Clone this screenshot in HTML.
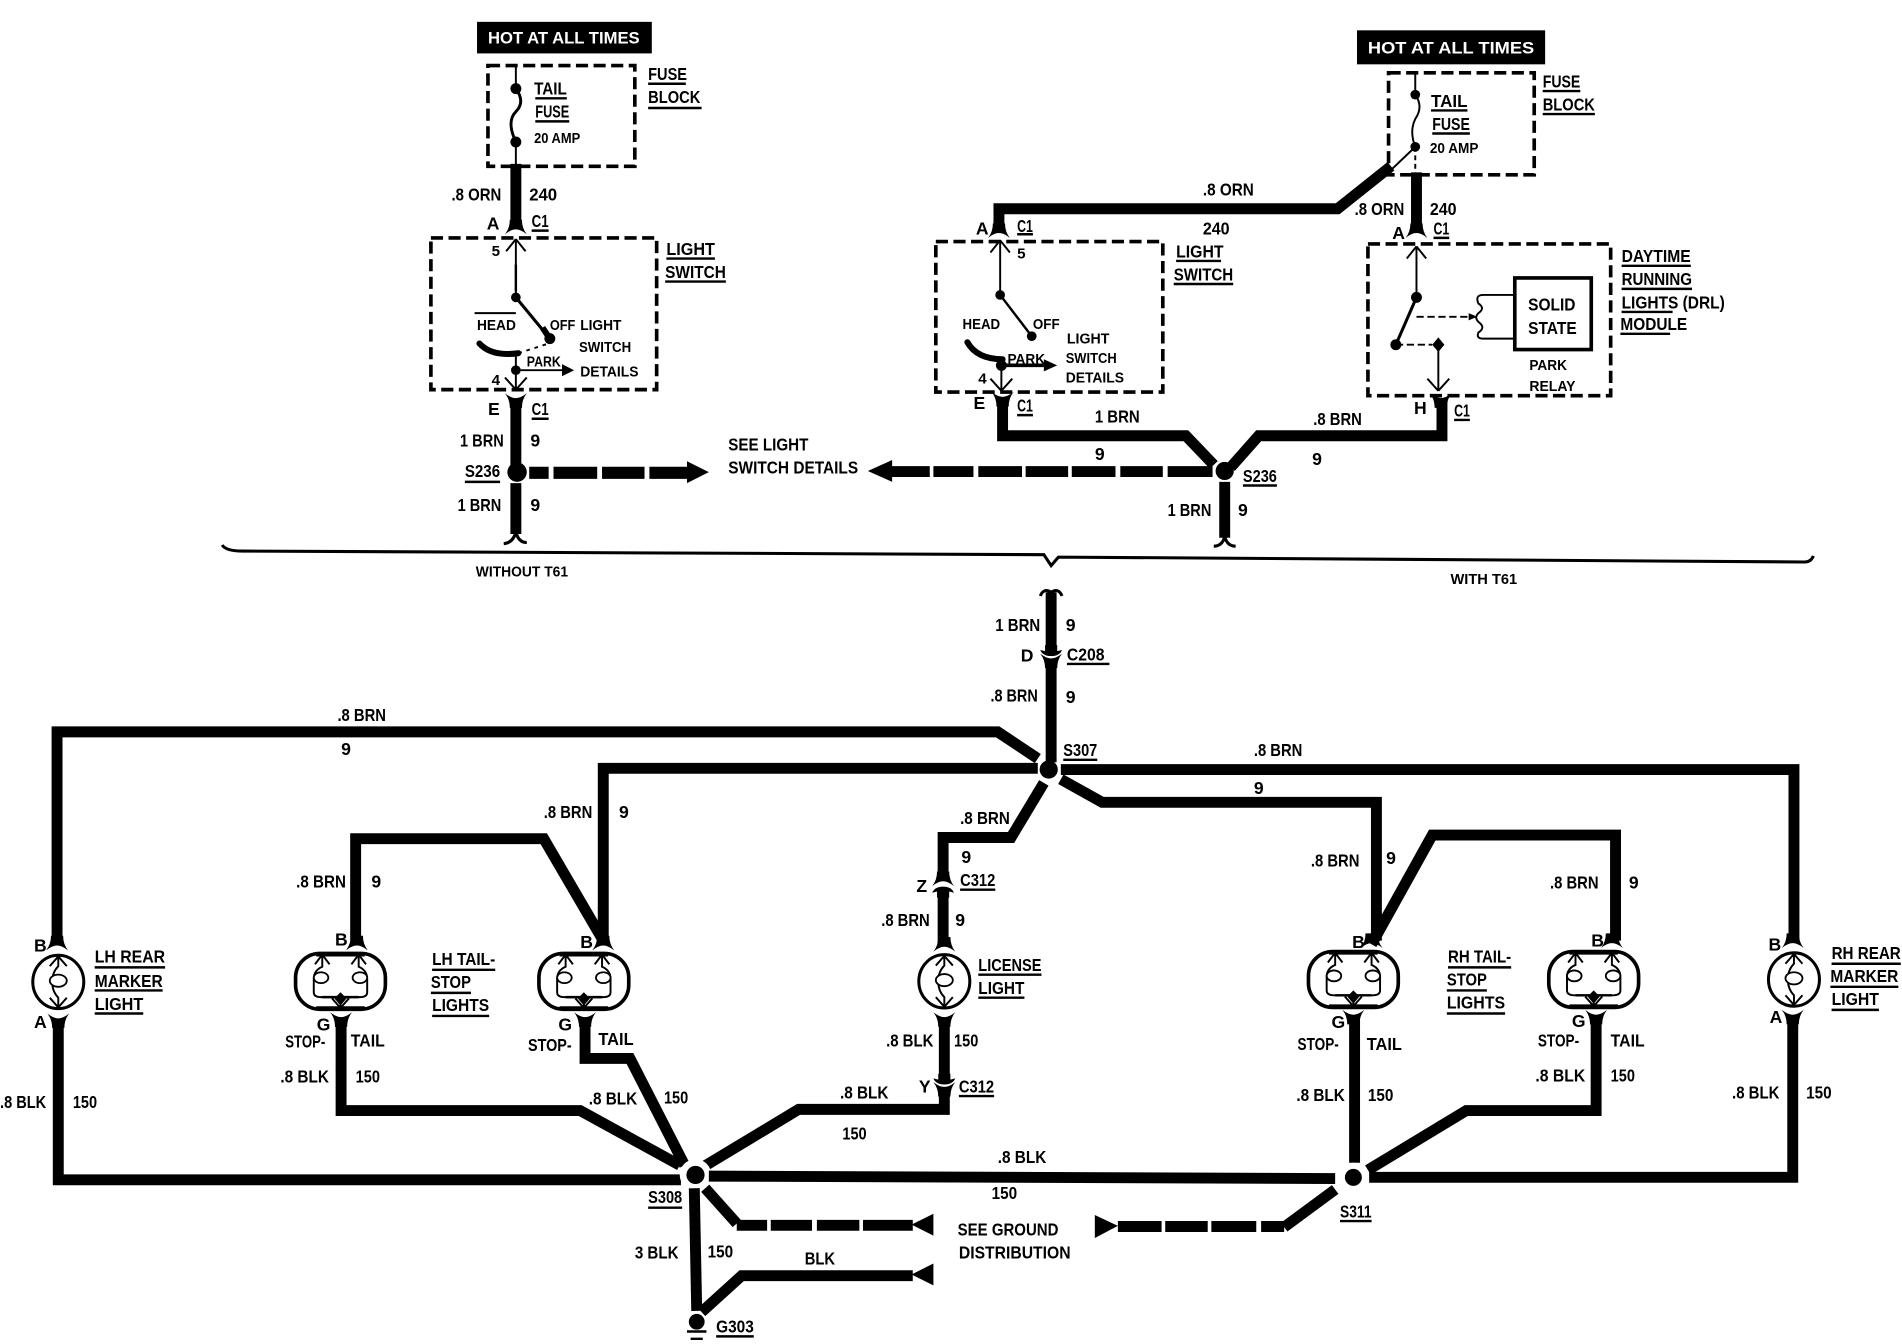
<!DOCTYPE html>
<html><head><meta charset="utf-8"><style>
html,body{margin:0;padding:0;background:#fff}
svg{display:block}
text{font-family:"Liberation Sans",sans-serif;font-weight:bold;font-size:14.5px;fill:#000}
.s{font-size:12.5px}
.w{fill:#fff;font-size:14px}
.t{fill:none;stroke:#000;stroke-width:1.6}
.m{fill:none;stroke:#000;stroke-width:9;stroke-linejoin:miter}
.d{fill:none;stroke:#000;stroke-width:3;stroke-dasharray:10 4.5}
.u{fill:none;stroke:#000;stroke-width:2}
</style></head><body>
<svg xmlns="http://www.w3.org/2000/svg" width="1902" height="1344" viewBox="0 0 1567 1107.3">
<defs>
<g id="cd"><path d="M-9,3Q-5,-2 -5,-9H5Q5,-2 9,3Q4,-1 0,-1Q-4,-1 -9,3Z"/></g>
<g id="cu"><path d="M-9,-3Q-5,2 -5,9H5Q5,2 9,-3Q4,1 0,1Q-4,1 -9,-3Z"/></g>
<g id="dome"><path d="M-9,5Q-7,0 0,0Q7,0 9,5L5,4V9H-5V4Z"/></g>
<g id="du"><path d="M-9,-5Q-7,0 0,0Q7,0 9,-5L5,-4V-9H-5V-4Z"/></g>
<g id="dual">
<rect x="-37" y="-23" width="74" height="46" rx="20" fill="#fff" stroke="#000" stroke-width="3"/>
<path d="M-20,-22H20M-20,22H20" stroke="#000" stroke-width="3"/>
<path class="t" d="M-15,-22L-21,-14M-15,-22L-9,-14M15,-22L9,-14M15,-22L21,-14M-15,-22V-12Q-22,-9 -22,-2V9Q-22,13 -16,13H16Q22,13 22,9V-2Q22,-9 15,-12V-22M0,15V22M0,22L-7,14M0,22L7,14"/>
<ellipse cx="-16" cy="-3" rx="6" ry="4.5" fill="#fff" stroke="#000" stroke-width="1.5"/>
<ellipse cx="16" cy="-3" rx="6" ry="4.5" fill="#fff" stroke="#000" stroke-width="1.5"/>
<path d="M0,9L5,14L0,20L-5,14Z"/>
<path d="M-15,13H15" stroke="#000" stroke-width="2"/>
</g>
<g id="mk">
<ellipse cx="0" cy="0" rx="21" ry="22" fill="#fff" stroke="#000" stroke-width="2.5"/>
<path class="t" d="M0,-21L-7,-13M0,-21L7,-13M0,21L-7,13M0,21L7,13M0,-21V-13Q-5,-8 -5,0Q-5,8 0,13V21"/>
<ellipse cx="0" cy="-1" rx="7" ry="5" fill="#fff" stroke="#000" stroke-width="1.5"/>
</g>
</defs>
<rect width="1567" height="1107.3" fill="#fff"/>

<!-- top left -->
<rect x="393" y="18" width="144" height="26"/>
<text class="w" x="402" y="36" textLength="125" lengthAdjust="spacingAndGlyphs">HOT AT ALL TIMES</text>
<rect class="d" x="402" y="54" width="121" height="83"/>
<path class="t" style="stroke-width:2.4" d="M425,73Q433,84 425,92Q417,100 425,117"/>
<path class="t" d="M425,54V73M425,117V137"/>
<circle cx="425" cy="73" r="4.5"/><circle cx="425" cy="117" r="4.5"/>
<path class="m" d="M425,135V185"/>
<use href="#cd" x="425" y="190"/>
<rect class="d" x="355" y="196" width="186" height="125"/>
<path class="t" d="M425,197V245M425,197L417,207M425,197L433,207"/>
<path d="M425,218V240" stroke="#000" stroke-width="2"/>
<circle cx="425" cy="245" r="4"/>
<path d="M425,245L453,279" stroke="#000" stroke-width="2.5"/>
<path d="M447,270L453,279" stroke="#000" stroke-width="5"/>
<circle cx="453" cy="279" r="4.5"/>
<path d="M395,283Q405,294 427,291" fill="none" stroke="#000" stroke-width="5" stroke-linecap="round"/>
<path class="t" d="M425,291V321M425,321L416,311M425,321L434,311M425,305H464M391,258H425"/>
<path class="t" style="stroke-dasharray:3 4" d="M427,291L452,283"/>
<circle cx="425" cy="305" r="4"/>
<path d="M463,300L473,305L463,310Z"/>
<use href="#cu" x="425" y="327"/>
<path class="m" d="M425,330V383M425,398V440"/>
<circle cx="426" cy="389" r="8"/>
<path d="M436,384.500h16v10h-16zM456,384.500h36v10h-36zM496,384.500h35v10h-35zM535,384.500h31v10h-31zM566,380L584,389L566,398Z"/>
<path class="t" style="stroke-width:2.500" d="M415,448Q423,447 425,438Q427,447 434,447"/>

<text x="440" y="78" textLength="27" lengthAdjust="spacingAndGlyphs">TAIL</text>
<text x="441" y="97" textLength="28" lengthAdjust="spacingAndGlyphs">FUSE</text>
<text class="s" x="440" y="118" textLength="38" lengthAdjust="spacingAndGlyphs">20 AMP</text>
<text x="534" y="66" textLength="32" lengthAdjust="spacingAndGlyphs">FUSE</text>
<text x="534" y="85" textLength="43" lengthAdjust="spacingAndGlyphs">BLOCK</text>
<text x="372" y="165" textLength="41" lengthAdjust="spacingAndGlyphs">.8 ORN</text>
<text x="436" y="165" textLength="23" lengthAdjust="spacingAndGlyphs">240</text>
<text x="401" y="189">A</text>
<text x="438" y="187" textLength="14" lengthAdjust="spacingAndGlyphs">C1</text>
<text x="549" y="210" textLength="40" lengthAdjust="spacingAndGlyphs">LIGHT</text>
<text x="548" y="229" textLength="50" lengthAdjust="spacingAndGlyphs">SWITCH</text>
<text class="s" x="405" y="211">5</text>
<text class="s" x="393" y="272" textLength="32" lengthAdjust="spacingAndGlyphs">HEAD</text>
<text class="s" x="453" y="272" textLength="21" lengthAdjust="spacingAndGlyphs">OFF</text>
<text class="s" x="478" y="272" textLength="34" lengthAdjust="spacingAndGlyphs">LIGHT</text>
<text class="s" x="477" y="290" textLength="43" lengthAdjust="spacingAndGlyphs">SWITCH</text>
<text class="s" x="478" y="310" textLength="48" lengthAdjust="spacingAndGlyphs">DETAILS</text>
<text class="s" x="434" y="302" textLength="28" lengthAdjust="spacingAndGlyphs">PARK</text>
<text class="s" x="405" y="317">4</text>
<text x="402" y="342">E</text>
<text x="438" y="342" textLength="14" lengthAdjust="spacingAndGlyphs">C1</text>
<text x="379" y="368" textLength="36" lengthAdjust="spacingAndGlyphs">1 BRN</text>
<text x="437" y="368">9</text>
<text x="383" y="393" textLength="29" lengthAdjust="spacingAndGlyphs">S236</text>
<text x="377" y="421" textLength="36" lengthAdjust="spacingAndGlyphs">1 BRN</text>
<text x="437" y="421">9</text>
<text x="600" y="371" textLength="66" lengthAdjust="spacingAndGlyphs">SEE LIGHT</text>
<text x="600" y="390" textLength="107" lengthAdjust="spacingAndGlyphs">SWITCH DETAILS</text>
<path class="u" d="M441,81H467M441,100H469M534,69H565M534,89H578M438,190H452M549,213H589M548,232H598M438,345H452M383,397H412"/>

<!-- top right -->
<rect x="1118" y="25" width="155" height="28"/>
<text class="w" x="1127" y="44" textLength="137" lengthAdjust="spacingAndGlyphs">HOT AT ALL TIMES</text>
<rect class="d" x="1144" y="60" width="120" height="84"/>
<path class="t" d="M1166,60V78Q1173,88 1166,98Q1161,108 1166,121L1145,141"/>
<path class="t" style="stroke-dasharray:4 3" d="M1166,121V143"/>
<circle cx="1166" cy="78" r="4"/><circle cx="1166" cy="121" r="4"/>
<path class="m" d="M1146,137L1102,172H823V188"/>
<path class="m" d="M1167,142V185"/>
<use href="#cd" x="823" y="193"/>
<use href="#cd" x="1167" y="193"/>
<rect class="d" x="771" y="199" width="187" height="124"/>
<path class="t" d="M824,198V243M824,198L816,208M824,198L832,208M825,299V322M825,322L816,312M825,322L834,312"/>
<circle cx="824" cy="243" r="4"/>
<path d="M824,243L850,277" stroke="#000" stroke-width="2"/>
<circle cx="850" cy="277" r="4"/>
<path d="M797,282Q805,296 826,296" fill="none" stroke="#000" stroke-width="5" stroke-linecap="round"/>
<circle cx="825" cy="301" r="4.500"/>
<path d="M825,301H860" stroke="#000" stroke-width="3"/><path d="M860,296L871,301L860,306Z"/>
<use href="#cu" x="826" y="326"/>
<path class="m" d="M826,330V359H977L1000,383"/>
<path class="m" d="M1014,385L1037,359H1188V331"/>
<use href="#cu" x="1187" y="327"/>
<circle cx="1009" cy="388" r="7.500"/>
<path class="m" d="M1009,397V443"/>
<path class="t" style="stroke-width:2.500" d="M1000,450Q1007,450 1009,442Q1011,450 1018,450"/>
<path d="M735,384h31v9h-31zM769,384h33v9h-33zM806,384h36v9h-36zM845,384h35v9h-35zM883,384h36v9h-36zM923,384h35v9h-35zM962,384h37v9h-37zM735,379L715,388L735,397Z"/>
<rect class="d" x="1127" y="201" width="200" height="125"/>
<path class="t" d="M1167,203V245M1167,203L1159,213M1167,203L1175,213M1185,284V322M1185,322L1176,312M1185,322L1194,312"/>
<circle cx="1167" cy="245" r="4.500"/>
<path d="M1167,245L1150,284" stroke="#000" stroke-width="2.500"/>
<circle cx="1150" cy="284" r="4.500"/>
<path d="M1185,278L1190,284L1185,290L1180,284Z"/>
<path class="t" style="stroke-dasharray:6 3" d="M1167,261H1215M1150,284H1180"/>
<path d="M1210,258L1217,261L1210,264Z"/>
<rect x="1248" y="229" width="63" height="59" fill="#fff" stroke="#000" stroke-width="3"/>
<path class="t" d="M1248,243H1222Q1215,243 1218,250Q1224,254 1218,258Q1214,262 1219,266Q1224,270 1218,274Q1216,279 1222,279H1248"/>

<text x="1179" y="88" textLength="30" lengthAdjust="spacingAndGlyphs">TAIL</text>
<text x="1180" y="107" textLength="31" lengthAdjust="spacingAndGlyphs">FUSE</text>
<text class="s" x="1178" y="126" textLength="40" lengthAdjust="spacingAndGlyphs">20 AMP</text>
<text x="1271" y="72" textLength="31" lengthAdjust="spacingAndGlyphs">FUSE</text>
<text x="1271" y="91" textLength="43" lengthAdjust="spacingAndGlyphs">BLOCK</text>
<text x="991" y="161" textLength="42" lengthAdjust="spacingAndGlyphs">.8 ORN</text>
<text x="991" y="193" textLength="22" lengthAdjust="spacingAndGlyphs">240</text>
<text x="1116" y="177" textLength="41" lengthAdjust="spacingAndGlyphs">.8 ORN</text>
<text x="1178" y="177" textLength="22" lengthAdjust="spacingAndGlyphs">240</text>
<text x="804" y="193">A</text>
<text x="838" y="191" textLength="13" lengthAdjust="spacingAndGlyphs">C1</text>
<text x="1147" y="197">A</text>
<text x="1181" y="193" textLength="13" lengthAdjust="spacingAndGlyphs">C1</text>
<text x="969" y="212" textLength="39" lengthAdjust="spacingAndGlyphs">LIGHT</text>
<text x="967" y="231" textLength="49" lengthAdjust="spacingAndGlyphs">SWITCH</text>
<text class="s" x="838" y="213">5</text>
<text class="s" x="793" y="271" textLength="31" lengthAdjust="spacingAndGlyphs">HEAD</text>
<text class="s" x="851" y="271" textLength="22" lengthAdjust="spacingAndGlyphs">OFF</text>
<text class="s" x="879" y="283" textLength="35" lengthAdjust="spacingAndGlyphs">LIGHT</text>
<text class="s" x="878" y="299" textLength="42" lengthAdjust="spacingAndGlyphs">SWITCH</text>
<text class="s" x="878" y="315" textLength="48" lengthAdjust="spacingAndGlyphs">DETAILS</text>
<text class="s" x="830" y="300" textLength="31" lengthAdjust="spacingAndGlyphs">PARK</text>
<text class="s" x="806" y="316">4</text>
<text x="802" y="337">E</text>
<text x="838" y="339" textLength="13" lengthAdjust="spacingAndGlyphs">C1</text>
<text x="902" y="348" textLength="37" lengthAdjust="spacingAndGlyphs">1 BRN</text>
<text x="902" y="379">9</text>
<text x="1082" y="350" textLength="40" lengthAdjust="spacingAndGlyphs">.8 BRN</text>
<text x="1081" y="383">9</text>
<text x="1024" y="397" textLength="28" lengthAdjust="spacingAndGlyphs">S236</text>
<text x="962" y="425" textLength="36" lengthAdjust="spacingAndGlyphs">1 BRN</text>
<text x="1020" y="425">9</text>
<text x="1165" y="341">H</text>
<text x="1198" y="343" textLength="13" lengthAdjust="spacingAndGlyphs">C1</text>
<text x="1259" y="256" textLength="39" lengthAdjust="spacingAndGlyphs">SOLID</text>
<text x="1259" y="275" textLength="40" lengthAdjust="spacingAndGlyphs">STATE</text>
<text class="s" x="1260" y="305" textLength="31" lengthAdjust="spacingAndGlyphs">PARK</text>
<text class="s" x="1260" y="322" textLength="38" lengthAdjust="spacingAndGlyphs">RELAY</text>
<text x="1336" y="216" textLength="57" lengthAdjust="spacingAndGlyphs">DAYTIME</text>
<text x="1336" y="235" textLength="58" lengthAdjust="spacingAndGlyphs">RUNNING</text>
<text x="1336" y="254" textLength="85" lengthAdjust="spacingAndGlyphs">LIGHTS (DRL)</text>
<text x="1335" y="272" textLength="55" lengthAdjust="spacingAndGlyphs">MODULE</text>
<path class="u" d="M1179,91H1209M1180,110H1211M1271,75H1302M1271,94H1314M838,193H851M1181,196H1194M969,215H1006M967,234H1016M838,342H851M1198,346H1211M1024,400H1052M1336,219H1393M1336,238H1394M1336,257H1378M1335,275H1376"/>

<!-- bracket -->
<path fill="none" stroke="#000" stroke-width="2.500" d="M183,449Q186,454 200,454L860,457L866,466L872,459L1487,463Q1492,463 1494,458"/>
<text class="s" x="392" y="475" textLength="76" lengthAdjust="spacingAndGlyphs">WITHOUT T61</text>
<text class="s" x="1195" y="481" textLength="55" lengthAdjust="spacingAndGlyphs">WITH T61</text>

<!-- lower -->
<path class="t" style="stroke-width:2.500" d="M857,491Q860,484 866,488Q872,484 875,491"/>
<path class="m" d="M866,488V536M866,548V628"/>
<use href="#du" x="866" y="540.500"/>
<use href="#cu" x="866" y="541.500"/>
<circle cx="864" cy="634" r="7.500"/>
<path class="m" d="M855,625L822,603H47V775"/>
<path class="m" d="M855,633H497V775"/>
<path class="m" d="M860,645L833,690H777V722"/>
<path class="m" d="M874,634H1478V775"/>
<path class="m" d="M874,642L908,661H1134V775"/>
<path class="m" d="M1130,778L1180,688H1331V775"/>
<path class="m" d="M293,775V691H448L497,775"/>
<use href="#cd" x="777" y="727"/>
<use href="#dome" x="777" y="730.500"/>
<path class="m" d="M777,737V778"/>

<use href="#cd" x="47" y="780"/>
<use href="#cu" x="48" y="838"/>
<use href="#mk" x="48" y="809"/>
<use href="#cd" x="294" y="780"/>
<use href="#cd" x="497" y="780"/>
<use href="#dual" x="280.500" y="808.500"/>
<use href="#dual" x="481" y="808.500"/>
<use href="#cu" x="281" y="837"/>
<use href="#cu" x="482" y="837"/>
<use href="#cd" x="778" y="781"/>
<use href="#mk" x="778" y="808.500"/>
<use href="#cu" x="778" y="837"/>
<use href="#cd" x="1130" y="778"/>
<use href="#dual" x="1115" y="807"/>
<use href="#cu" x="1115" y="835"/>
<use href="#cd" x="1328" y="778"/>
<use href="#dual" x="1313" y="807"/>
<use href="#cu" x="1315" y="835"/>
<use href="#cd" x="1477" y="778"/>
<use href="#mk" x="1478" y="807"/>
<use href="#cu" x="1477" y="835"/>

<path class="m" d="M48,842V972H561"/>
<path class="m" d="M281,842V915H478L560,960"/>
<path class="m" d="M482,842V872H519L564,960"/>
<path class="m" d="M778,842V885"/>
<use href="#du" x="778" y="893.500"/>
<use href="#cu" x="778" y="894.500"/>
<path class="m" d="M778,900V914H658L580,961"/>
<circle cx="573" cy="968" r="13" fill="#fff"/>
<circle cx="573" cy="968" r="7.500"/>
<path class="m" d="M584,969L1100,971"/>
<path class="m" d="M1116,840V958"/>
<path class="m" d="M1315,840V915H1208L1127,964"/>
<path class="m" d="M1477,840V970H1128"/>
<circle cx="1115" cy="970" r="12" fill="#fff"/>
<circle cx="1115" cy="970" r="7"/>
<path class="m" d="M572,979L574,1080"/>
<path class="m" d="M581,979L607,1008"/>
<path class="m" d="M1100,980L1058,1011"/>
<path class="m" d="M578,1081L611,1051H752"/>
<path d="M607,1005h25v9h-25zM635,1005h34v9h-34zM673,1005h35v9h-35zM711,1005h41v9h-41z"/>
<path d="M921,1006h36v9h-36zM960,1006h35v9h-35zM998,1006h37v9h-37zM1039,1006h19v9h-19z"/>
<path d="M769,1000L751,1009L769,1018ZM769,1041L751,1050L769,1059ZM902,1001L921,1010L902,1020Z"/>
<circle cx="574" cy="1089" r="6.500"/>
<path d="M566,1097H582M569,1103H579" stroke="#000" stroke-width="2"/>

<text x="820" y="520" textLength="37" lengthAdjust="spacingAndGlyphs">1 BRN</text>
<text x="878" y="520">9</text>
<text x="841" y="545">D</text>
<text x="879" y="544" textLength="31" lengthAdjust="spacingAndGlyphs">C208</text>
<text x="816" y="578" textLength="39" lengthAdjust="spacingAndGlyphs">.8 BRN</text>
<text x="878" y="579">9</text>
<text x="876" y="623" textLength="28" lengthAdjust="spacingAndGlyphs">S307</text>
<text x="278" y="594" textLength="40" lengthAdjust="spacingAndGlyphs">.8 BRN</text>
<text x="281" y="622">9</text>
<text x="448" y="674" textLength="40" lengthAdjust="spacingAndGlyphs">.8 BRN</text>
<text x="510" y="674">9</text>
<text x="791" y="679" textLength="41" lengthAdjust="spacingAndGlyphs">.8 BRN</text>
<text x="792" y="711">9</text>
<text x="755" y="735">Z</text>
<text x="791" y="730" textLength="29" lengthAdjust="spacingAndGlyphs">C312</text>
<text x="726" y="763" textLength="40" lengthAdjust="spacingAndGlyphs">.8 BRN</text>
<text x="787" y="763">9</text>
<text x="1033" y="623" textLength="40" lengthAdjust="spacingAndGlyphs">.8 BRN</text>
<text x="1033" y="654">9</text>
<text x="1080" y="714" textLength="40" lengthAdjust="spacingAndGlyphs">.8 BRN</text>
<text x="1142" y="712">9</text>
<text x="1277" y="732" textLength="40" lengthAdjust="spacingAndGlyphs">.8 BRN</text>
<text x="1342" y="732">9</text>
<text x="244" y="731" textLength="41" lengthAdjust="spacingAndGlyphs">.8 BRN</text>
<text x="306" y="731">9</text>

<text x="28" y="784">B</text>
<text x="28" y="847">A</text>
<text x="0" y="913" textLength="38" lengthAdjust="spacingAndGlyphs">.8 BLK</text>
<text x="60" y="913" textLength="20" lengthAdjust="spacingAndGlyphs">150</text>
<text x="78" y="793" textLength="58" lengthAdjust="spacingAndGlyphs">LH REAR</text>
<text x="78" y="813" textLength="56" lengthAdjust="spacingAndGlyphs">MARKER</text>
<text x="78" y="832" textLength="40" lengthAdjust="spacingAndGlyphs">LIGHT</text>
<text x="276" y="779">B</text>
<text x="261" y="849">G</text>
<text x="235" y="863" textLength="33" lengthAdjust="spacingAndGlyphs">STOP-</text>
<text x="289" y="862" textLength="28" lengthAdjust="spacingAndGlyphs">TAIL</text>
<text x="231" y="892" textLength="40" lengthAdjust="spacingAndGlyphs">.8 BLK</text>
<text x="293" y="892" textLength="20" lengthAdjust="spacingAndGlyphs">150</text>
<text x="478" y="781">B</text>
<text x="460" y="849">G</text>
<text x="435" y="866" textLength="36" lengthAdjust="spacingAndGlyphs">STOP-</text>
<text x="493" y="861" textLength="29" lengthAdjust="spacingAndGlyphs">TAIL</text>
<text x="485" y="910" textLength="40" lengthAdjust="spacingAndGlyphs">.8 BLK</text>
<text x="547" y="909" textLength="20" lengthAdjust="spacingAndGlyphs">150</text>
<text x="356" y="795" textLength="52" lengthAdjust="spacingAndGlyphs">LH TAIL-</text>
<text x="355" y="814" textLength="33" lengthAdjust="spacingAndGlyphs">STOP</text>
<text x="356" y="833" textLength="47" lengthAdjust="spacingAndGlyphs">LIGHTS</text>
<text x="806" y="800" textLength="52" lengthAdjust="spacingAndGlyphs">LICENSE</text>
<text x="806" y="819" textLength="38" lengthAdjust="spacingAndGlyphs">LIGHT</text>
<text x="730" y="862" textLength="39" lengthAdjust="spacingAndGlyphs">.8 BLK</text>
<text x="786" y="862" textLength="20" lengthAdjust="spacingAndGlyphs">150</text>
<text x="757" y="900">Y</text>
<text x="790" y="900" textLength="29" lengthAdjust="spacingAndGlyphs">C312</text>
<text x="692" y="905" textLength="40" lengthAdjust="spacingAndGlyphs">.8 BLK</text>
<text x="694" y="939" textLength="20" lengthAdjust="spacingAndGlyphs">150</text>
<text x="1114" y="781">B</text>
<text x="1097" y="847">G</text>
<text x="1069" y="865" textLength="34" lengthAdjust="spacingAndGlyphs">STOP-</text>
<text x="1126" y="865" textLength="29" lengthAdjust="spacingAndGlyphs">TAIL</text>
<text x="1068" y="907" textLength="40" lengthAdjust="spacingAndGlyphs">.8 BLK</text>
<text x="1127" y="907" textLength="21" lengthAdjust="spacingAndGlyphs">150</text>
<text x="1311" y="780">B</text>
<text x="1295" y="846">G</text>
<text x="1267" y="862" textLength="34" lengthAdjust="spacingAndGlyphs">STOP-</text>
<text x="1327" y="862" textLength="28" lengthAdjust="spacingAndGlyphs">TAIL</text>
<text x="1265" y="891" textLength="41" lengthAdjust="spacingAndGlyphs">.8 BLK</text>
<text x="1327" y="891" textLength="20" lengthAdjust="spacingAndGlyphs">150</text>
<text x="1193" y="793" textLength="52" lengthAdjust="spacingAndGlyphs">RH TAIL-</text>
<text x="1192" y="812" textLength="33" lengthAdjust="spacingAndGlyphs">STOP</text>
<text x="1192" y="831" textLength="48" lengthAdjust="spacingAndGlyphs">LIGHTS</text>
<text x="1457" y="783">B</text>
<text x="1458" y="843">A</text>
<text x="1427" y="905" textLength="39" lengthAdjust="spacingAndGlyphs">.8 BLK</text>
<text x="1488" y="905" textLength="21" lengthAdjust="spacingAndGlyphs">150</text>
<text x="1509" y="790" textLength="57" lengthAdjust="spacingAndGlyphs">RH REAR</text>
<text x="1508" y="809" textLength="56" lengthAdjust="spacingAndGlyphs">MARKER</text>
<text x="1509" y="828" textLength="39" lengthAdjust="spacingAndGlyphs">LIGHT</text>
<text x="822" y="958" textLength="40" lengthAdjust="spacingAndGlyphs">.8 BLK</text>
<text x="817" y="988" textLength="21" lengthAdjust="spacingAndGlyphs">150</text>
<text x="534" y="991" textLength="28" lengthAdjust="spacingAndGlyphs">S308</text>
<text x="1104" y="1003" textLength="26" lengthAdjust="spacingAndGlyphs">S311</text>
<text x="523" y="1037" textLength="36" lengthAdjust="spacingAndGlyphs">3 BLK</text>
<text x="583" y="1036" textLength="21" lengthAdjust="spacingAndGlyphs">150</text>
<text x="663" y="1042" textLength="25" lengthAdjust="spacingAndGlyphs">BLK</text>
<text x="789" y="1018" textLength="83" lengthAdjust="spacingAndGlyphs">SEE GROUND</text>
<text x="790" y="1037" textLength="92" lengthAdjust="spacingAndGlyphs">DISTRIBUTION</text>
<text x="590" y="1098" textLength="31" lengthAdjust="spacingAndGlyphs">G303</text>
<path class="u" d="M879,547H914M876,626H904M791,733H820M790,903H819M78,797H136M78,816H134M78,835H118M356,799H408M355,818H388M356,837H403M806,803H858M806,822H844M1193,797H1245M1192,816H1225M1192,835H1240M1509,794H1566M1508,813H1564M1509,832H1548M534,995H562M1104,1006H1130M590,1101H621"/>
</svg>
</body></html>
